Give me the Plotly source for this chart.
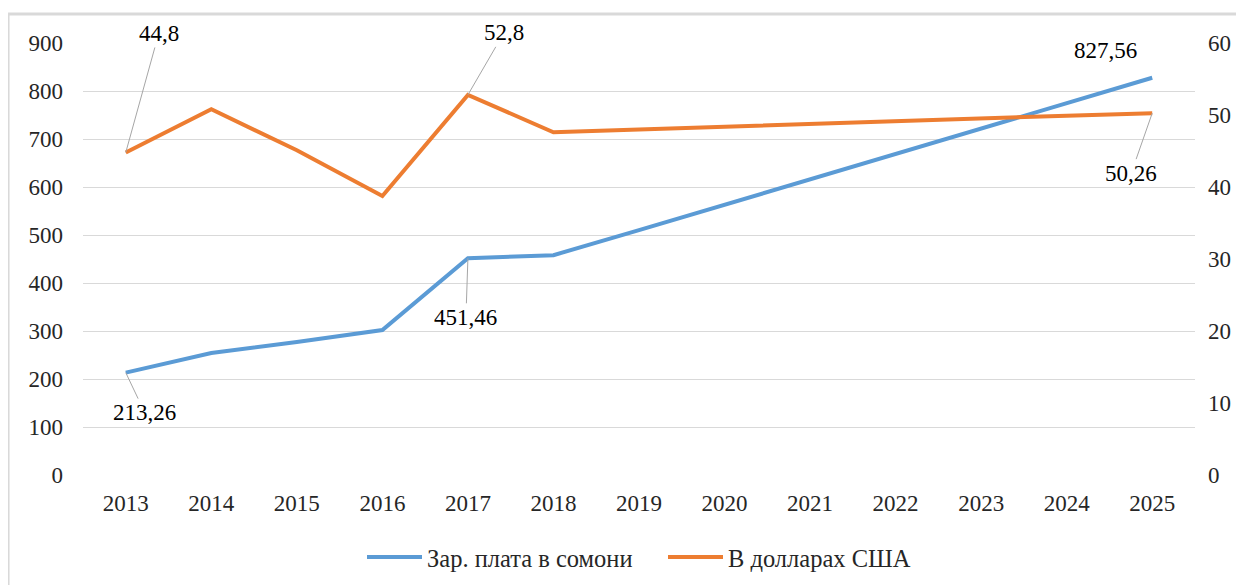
import plotly.graph_objects as go

years = ["2013", "2014", "2015", "2016", "2017", "2018", "2019",
         "2020", "2021", "2022", "2023", "2024", "2025"]
somoni = [213.26, 254, 277, 302, 451.46, 458, 510, 563, 616, 668, 721, 774, 827.56]
usd = [44.8, 50.8, 45.1, 38.75, 52.8, 47.6, 48.0, 48.4, 48.75, 49.1, 49.5, 49.9, 50.26]
name_somoni = "Зар. плата в сомони"
name_usd = "В долларах США"
left_ticks = list(range(0, 1000, 100))
right_ticks = list(range(0, 70, 10))

BLUE = "#5b9bd5"
ORANGE = "#ed7d31"
FONT = "Liberation Serif"
TXT = "#262626"

fig = go.Figure()
fig.add_trace(go.Scatter(x=years, y=somoni, name=name_somoni, mode="lines",
                         line=dict(color=BLUE, width=4)))
fig.add_trace(go.Scatter(x=years, y=usd, name=name_usd, mode="lines",
                         line=dict(color=ORANGE, width=4), yaxis="y2"))

def lab(v):
    return str(v).replace(".", ",")

# (series, point index, ax, ay, yref)
ann_specs = [
    (somoni, 0, 19, 40, "y"),
    (somoni, 4, -2, 59, "y"),
    (usd, 0, 33, -119, "y2"),
    (usd, 4, 36, -62, "y2"),
    (usd, 12, -21, 60, "y2"),
]
annotations = []
for series, i, ax, ay, yref in ann_specs:
    annotations.append(dict(x=i, y=series[i], xref="x", yref=yref,
                            text=lab(series[i]), showarrow=True, arrowhead=0,
                            arrowwidth=1, arrowcolor="#a6a6a6", standoff=0,
                            ax=ax, ay=ay, font=dict(family=FONT, size=23, color="#000")))
annotations.append(dict(x=12, y=somoni[12], xref="x", yref="y",
                        text=lab(somoni[12]), showarrow=False, xshift=-47, yshift=27,
                        font=dict(family=FONT, size=23, color="#000")))

fig.update_layout(
    width=1236, height=577,
    margin=dict(l=75, r=49, t=35, b=110, autoexpand=False),
    paper_bgcolor="white", plot_bgcolor="white",
    font=dict(family=FONT, size=23, color=TXT),
    showlegend=True,
    legend=dict(orientation="h", x=0.2509, xanchor="left", y=-0.19, yanchor="middle",
                font=dict(family=FONT, size=24.5, color=TXT), itemwidth=55,
                entrywidth=231, tracegroupgap=0),
    xaxis=dict(type="category", range=[-0.5, 12.5], showgrid=False, showline=False,
               zeroline=False, ticks="", ticklabelstandoff=12,
               tickfont=dict(family=FONT, size=23, color=TXT)),
    yaxis=dict(range=[0, 900], tickvals=left_ticks, showgrid=True, gridcolor="#d9d9d9",
               gridwidth=1, zeroline=False, showline=False, ticks="",
               ticklabelstandoff=19, tickfont=dict(family=FONT, size=23, color=TXT)),
    yaxis2=dict(range=[0, 60], tickvals=right_ticks, overlaying="y", side="right",
                showgrid=False, zeroline=False, showline=False, ticks="",
                ticklabelstandoff=12, tickfont=dict(family=FONT, size=23, color=TXT)),
    annotations=annotations,
    shapes=[
        dict(type="line", xref="paper", yref="paper", x0=-0.0674, x1=1.1, y0=1.0671, y1=1.0671,
             line=dict(color="#d9d9d9", width=3)),
        dict(type="line", xref="paper", yref="paper", x0=-0.0674, x1=-0.0674, y0=1.0671, y1=-0.4,
             line=dict(color="#d9d9d9", width=3)),
    ],
)

fig.write_html("out.html")
